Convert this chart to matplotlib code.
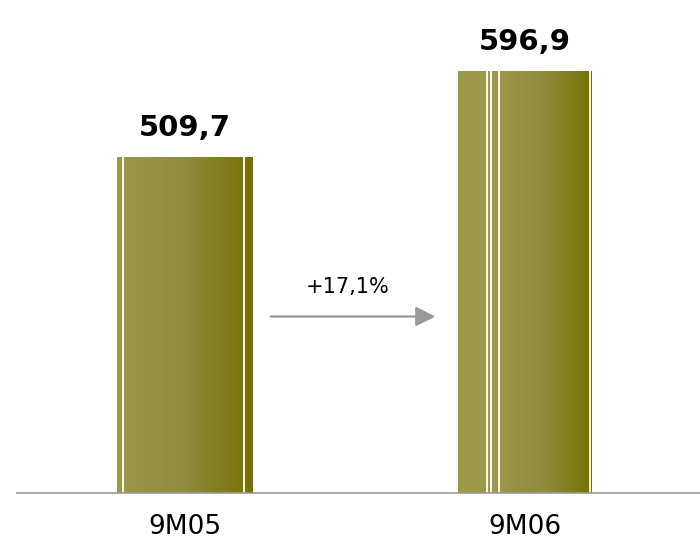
import numpy as np
import matplotlib
matplotlib.use("Agg")
import matplotlib.pyplot as plt
from matplotlib.colors import LinearSegmentedColormap

# data
categories = ["9M05", "9M06"]
values = [509.7, 596.9]
value_labels = ["509,7", "596,9"]
change_label = "+17,1%"

# white stripe positions as fraction of bar width (decoration)
stripes = [[0.04, 0.94], [0.22, 0.25, 0.31, 0.985]]

bar_w = 0.395
y_min, y_max = 169, 669
cmap = LinearSegmentedColormap.from_list("olive", ["#9c9848", "#8d8b3c", "#767200"])

fig = plt.figure(figsize=(7, 5.4), dpi=100)
ax = fig.add_axes([17 / 700, 47 / 540, 683 / 700, 493 / 540])

x = np.arange(len(categories))
bars = ax.bar(x, values, width=bar_w, color="#8d8b3c", edgecolor="none", zorder=2)

grad = np.linspace(0, 1, 256).reshape(1, -1)
for b, st in zip(bars, stripes):
    x0 = b.get_x()
    w = b.get_width()
    h = b.get_height()
    # light solid part up to the last of the left stripes, gradient after
    g0 = st[-2] if len(st) > 2 else st[0]
    ax.imshow(grad, cmap=cmap, aspect="auto",
              extent=[x0 + g0 * w, x0 + w, y_min, h], zorder=3)
    ax.add_patch(plt.Rectangle((x0, y_min), g0 * w, h - y_min,
                               color="#9c9848", zorder=3, lw=0))
    for s in st:
        ax.plot([x0 + s * w] * 2, [y_min, h], color="white", lw=1.3, zorder=4)

for xi, v, lab in zip(x, values, value_labels):
    ax.annotate(lab, (xi, v), xytext=(0, 11), textcoords="offset points",
                ha="center", va="bottom", fontsize=21, fontweight="bold")

ax.set_xlim(-0.492, 1.514)
ax.set_ylim(y_min, y_max)

# growth arrow
ax.annotate("", xy=(0.745, 348), xytext=(0.245, 348),
            arrowprops=dict(arrowstyle="-|>,head_length=1.2,head_width=0.6",
                            color="#999999", lw=1.6))
ax.text(0.48, 368, change_label, ha="center", va="bottom", fontsize=15)

ax.set_xticks(x)
ax.set_xticklabels(categories, fontsize=19)
ax.tick_params(axis="x", length=0, pad=15)
ax.set_yticks([])
for s in ["top", "right", "left"]:
    ax.spines[s].set_visible(False)
ax.spines["bottom"].set_color("#999999")
ax.spines["bottom"].set_linewidth(1.2)
ax.spines["bottom"].set_zorder(5)

fig.savefig("out.png", dpi=100)
